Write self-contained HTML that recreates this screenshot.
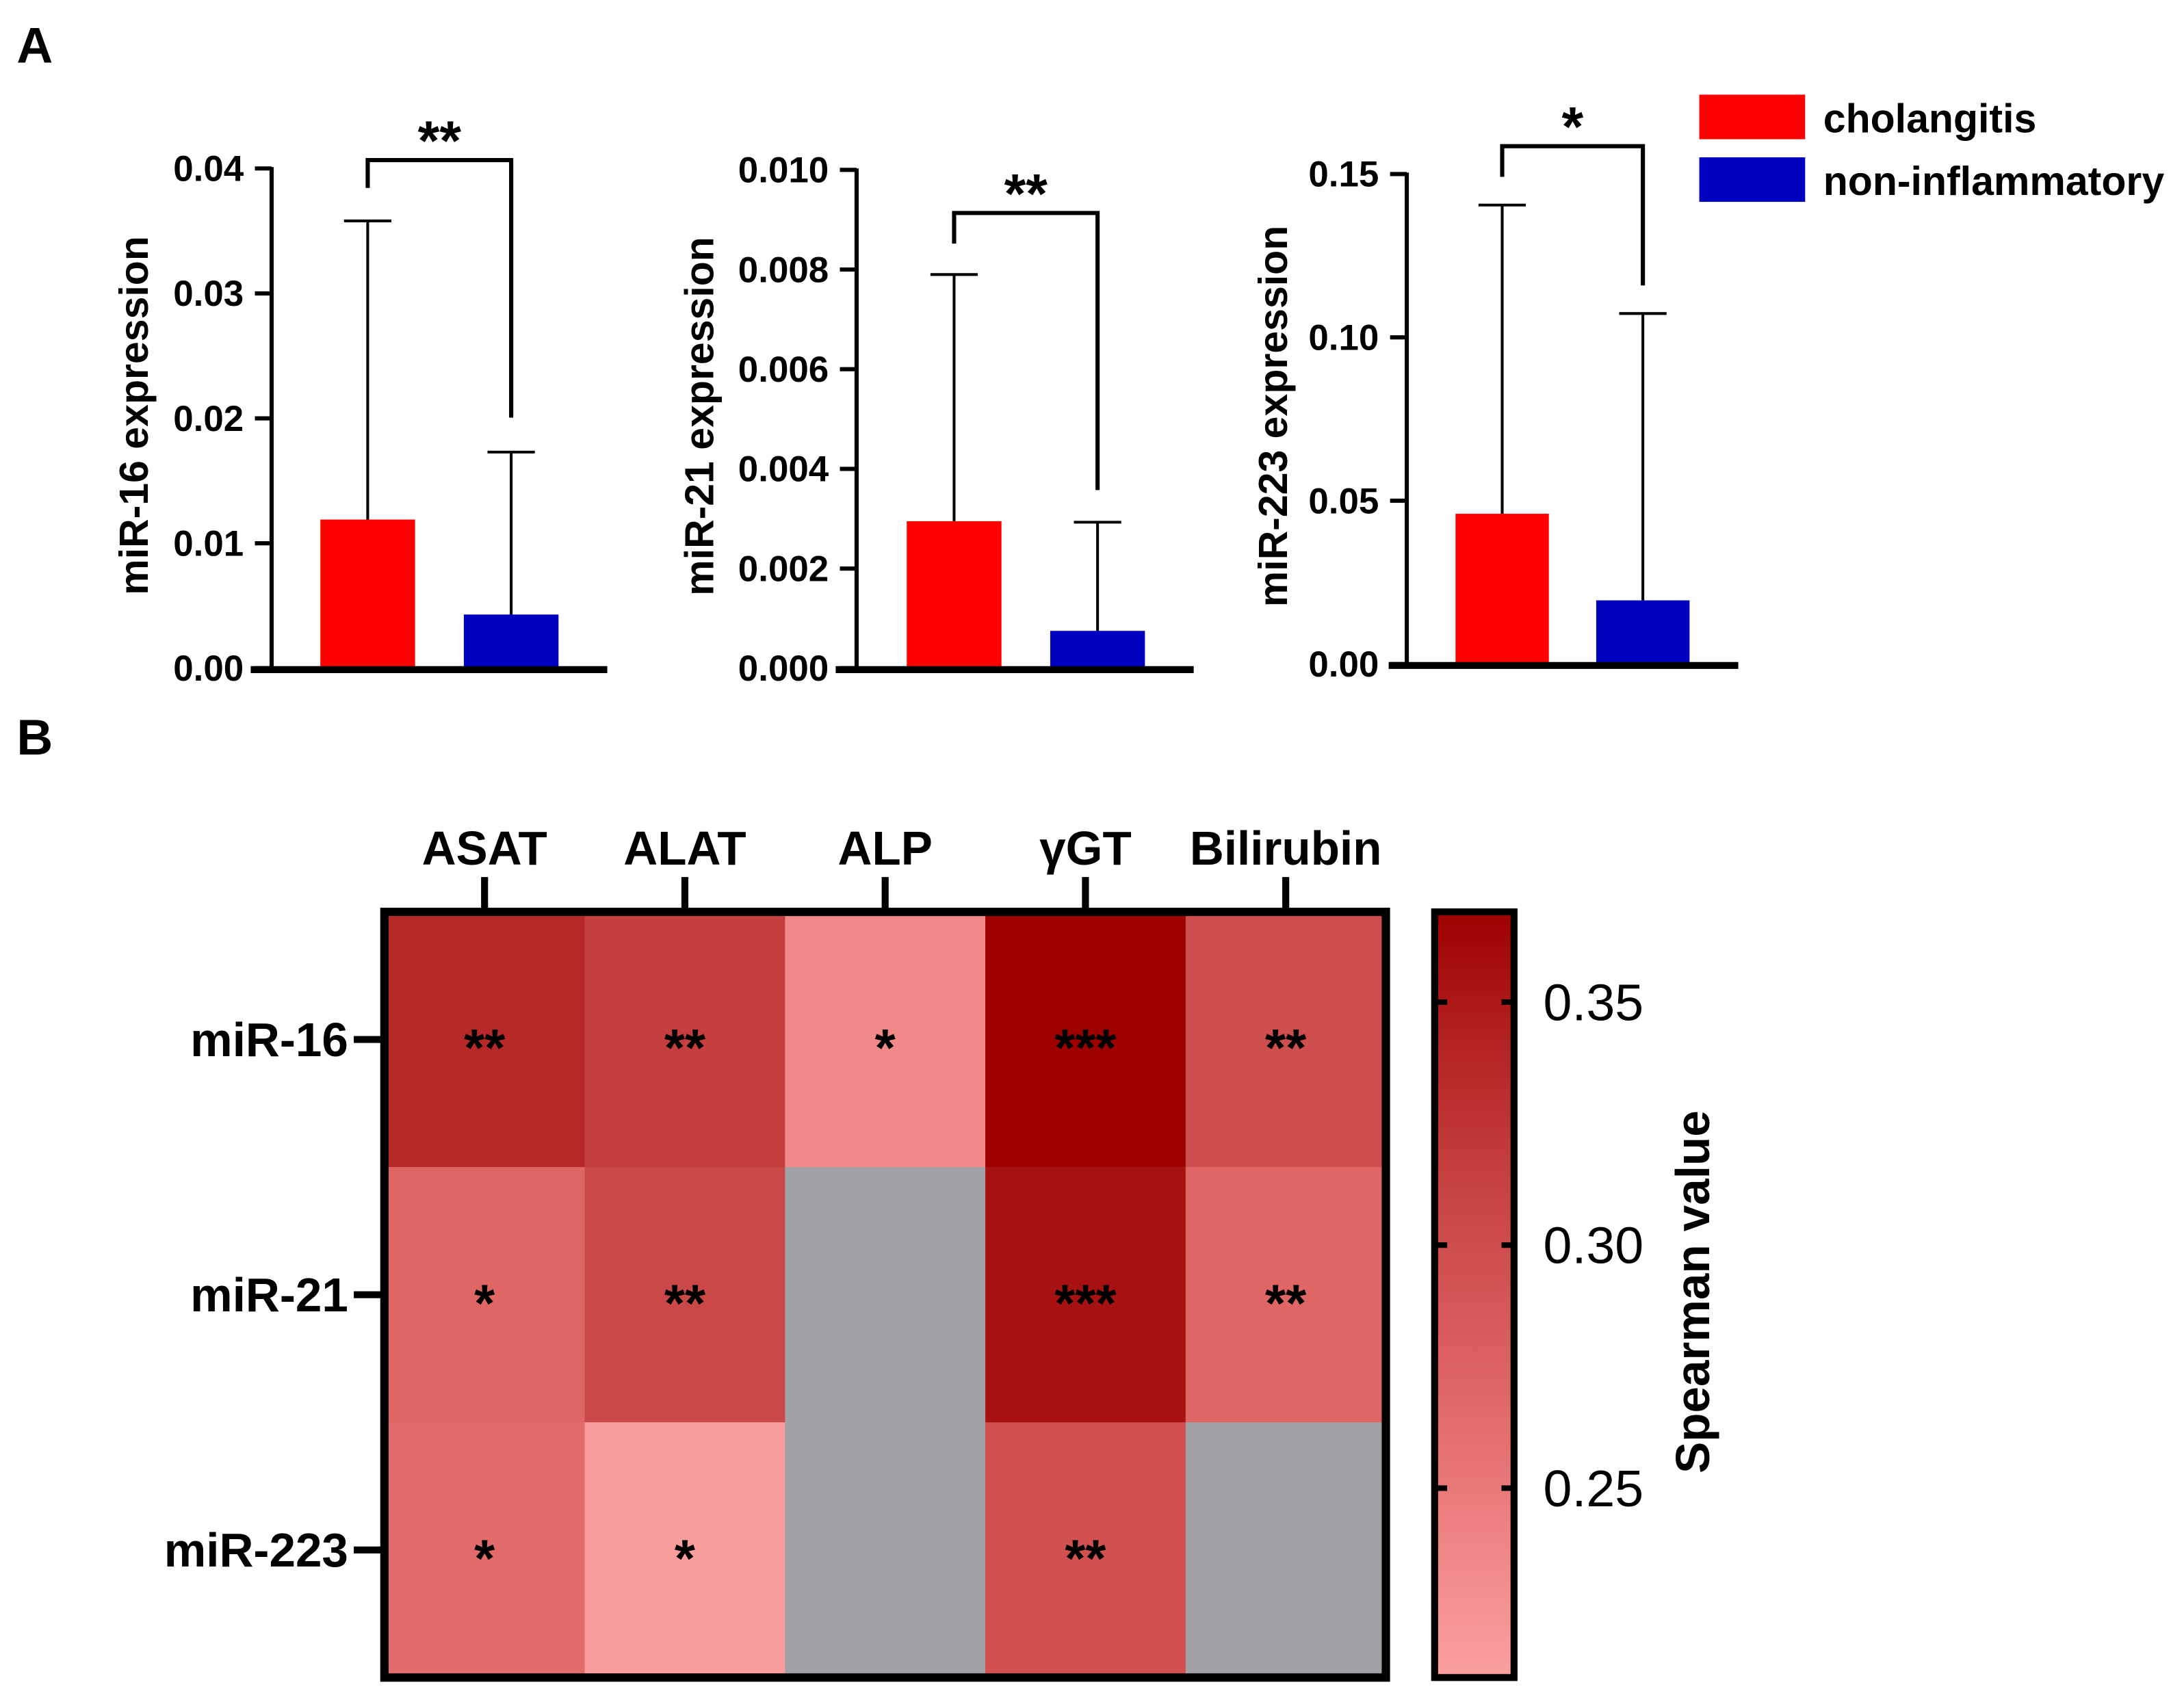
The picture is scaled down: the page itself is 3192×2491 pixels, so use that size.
<!DOCTYPE html>
<html><head><meta charset="utf-8">
<style>
html,body{margin:0;padding:0;background:#fff;}
svg{display:block;font-family:"Liberation Sans",Arial,sans-serif;}
</style></head>
<body>
<svg id="fig" width="3192" height="2491" viewBox="0 0 1568 1224" preserveAspectRatio="none" xmlns="http://www.w3.org/2000/svg">
<rect x="0" y="0" width="1568" height="1224" fill="#fff"/>
<text x="12" y="45" font-size="36" font-weight="bold">A</text>
<text x="12" y="542" font-size="36" font-weight="bold">B</text>
<g id="legend">
  <rect x="1220" y="68" width="76" height="32" fill="#ff0000"/>
  <text x="1309" y="95" font-size="29" font-weight="bold">cholangitis</text>
  <rect x="1220" y="113" width="76" height="32" fill="#0000c0"/>
  <text x="1309" y="140" font-size="29" font-weight="bold">non-inflammatory</text>
</g>
<g id="bars"></g>
<g id="heat"></g>
</svg>
<script>
// ---- Panel A data ----
const groups = ["cholangitis", "non-inflammatory"];
const mir16Means = [0.0119, 0.0043];
const mir16Errors = [0.0358, 0.0173];
const mir21Means = [0.00295, 0.00075];
const mir21Errors = [0.0079, 0.00293];
const mir223Means = [0.046, 0.0195];
const mir223Errors = [0.1405, 0.1073];
const mir16Ticks = ["0.00","0.01","0.02","0.03","0.04"];
const mir21Ticks = ["0.000","0.002","0.004","0.006","0.008","0.010"];
const mir223Ticks = ["0.00","0.05","0.10","0.15"];
const sigLabels = ["**","**","*"];

// ---- Panel B data ----
const heatCols = ["ASAT","ALAT","ALP","γGT","Bilirubin"];
const heatRows = ["miR-16","miR-21","miR-223"];
const row16 = [0.335, 0.315, 0.235, 0.368, 0.300];
const row21 = [0.270, 0.305, null, 0.355, 0.270];
const row223 = [0.265, 0.215, null, 0.295, null];
const row16Stars = ["**","**","*","***","**"];
const row21Stars = ["*","**","","***","**"];
const row223Stars = ["*","*","","**",""];
const cbTicks = ["0.25","0.30","0.35"];

const NS = "http://www.w3.org/2000/svg";
function mk(parent, tag, attrs, text){
  const e = document.createElementNS(NS, tag);
  for (const k in attrs) e.setAttribute(k, attrs[k]);
  if (text !== undefined) e.textContent = text;
  parent.appendChild(e);
  return e;
}

const barsG = document.getElementById('bars');
const charts = [
  {means:mir16Means, errs:mir16Errors, ticks:mir16Ticks, max:0.04, ax:195, y0:480, ytop:121, bx:[230,333], bw:68, xa:[180,436], title:"miR-16 expression", tx:106, br:{y:115, l:135, r:300}, sig:sigLabels[0], name:"mir16"},
  {means:mir21Means, errs:mir21Errors, ticks:mir21Ticks, max:0.010, ax:615, y0:480, ytop:122, bx:[651,754], bw:68, xa:[600,857], title:"miR-21 expression", tx:512, br:{y:153, l:175, r:352}, sig:sigLabels[1], name:"mir21"},
  {means:mir223Means, errs:mir223Errors, ticks:mir223Ticks, max:0.15, ax:1010, y0:477, ytop:125, bx:[1045,1146], bw:67, xa:[997,1248], title:"miR-223 expression", tx:924, br:{y:105, l:127, r:205}, sig:sigLabels[2], name:"mir223"}
];
const colors = ["#ff0000","#0000c0"];
charts.forEach(c => {
  const g = mk(barsG, 'g', {});
  
  
  const ys = v => c.y0 - (v / c.max) * (c.y0 - c.ytop);
  c.means.forEach((m, i) => {
    const x = c.bx[i], cx = x + c.bw/2;
    const top = ys(m), et = ys(c.errs[i]);
    const ln = mk(g, 'line', {x1:cx, x2:cx, y1:top, y2:et, stroke:'#000', 'stroke-width':2});
    
    
    const cap = mk(g, 'line', {x1:cx-17, x2:cx+17, y1:et, y2:et, stroke:'#000', 'stroke-width':2});
    
    
    const r = mk(g, 'rect', {x:x, y:top, width:c.bw, height:c.y0 - top, fill:colors[i]});
    
    
  });
  const ya = mk(g, 'line', {x1:c.ax, x2:c.ax, y1:c.ytop-1, y2:c.y0, stroke:'#000', 'stroke-width':3});
  
  
  const xa = mk(g, 'line', {x1:c.xa[0], x2:c.xa[1], y1:c.y0+1, y2:c.y0+1, stroke:'#000', 'stroke-width':5});
  
  
  c.ticks.forEach(t => {
    const y = ys(parseFloat(t));
    const tk = mk(g, 'line', {x1:c.ax-12, x2:c.ax, y1:y, y2:y, stroke:'#000', 'stroke-width':3});
    
    
    const tl = mk(g, 'text', {x:c.ax-20, y:y+9, 'text-anchor':'end', 'font-size':26, 'font-weight':'bold'}, t);
    
    
  });
  const ty = (c.y0 + c.ytop)/2 - 2;
  const tt = mk(g, 'text', {x:c.tx, y:ty, transform:'rotate(-90 '+c.tx+' '+ty+')', 'text-anchor':'middle', 'font-size':29, 'font-weight':'bold'}, c.title);
  
  
  const lx = c.bx[0] + c.bw/2, rx = c.bx[1] + c.bw/2;
  const br = mk(g, 'polyline', {points:`${lx},${c.br.l} ${lx},${c.br.y} ${rx},${c.br.y} ${rx},${c.br.r}`, fill:'none', stroke:'#000', 'stroke-width':3});
  
  
  const st = mk(g, 'text', {x:(lx+rx)/2, y:c.br.y, 'text-anchor':'middle', 'font-size':40, 'font-weight':'bold'}, c.sig);
  
  
});

// ---- Heatmap ----
const heatG = document.getElementById('heat');
const vmin = 0.2116, vmax = 0.368;
const stops = [[0.2116,[252,160,160]],[0.27,[224,102,102]],[0.31,[200,68,68]],[0.34,[180,36,36]],[0.368,[158,0,0]]];
function colorFor(v){
  if (v <= stops[0][0]) return 'rgb('+stops[0][1]+')';
  for (let i=1;i<stops.length;i++){
    if (v <= stops[i][0]){
      const a = stops[i-1], b = stops[i], t = (v-a[0])/(b[0]-a[0]);
      const c = a[1].map((x,k)=>Math.round(x+(b[1][k]-x)*t));
      return 'rgb('+c.join(',')+')';
    }
  }
  return 'rgb('+stops[stops.length-1][1]+')';
}
const hx0 = 276, hx1 = 995, hy0 = 655, hy1 = 1205;
const cw = (hx1-hx0)/heatCols.length, rh = (hy1-hy0)/heatRows.length;
const rowsData = [row16, row21, row223];
const rowsStars = [row16Stars, row21Stars, row223Stars];
rowsData.forEach((row, r) => {
  row.forEach((v, c) => {
    const cell = mk(heatG, 'rect', {x:hx0+c*cw, y:hy0+r*rh, width:cw+0.5, height:rh+0.5, fill: v===null ? '#a2a1a5' : colorFor(v)});
    
    
    const s = rowsStars[r][c];
    if (s){
      const t = mk(heatG, 'text', {x:hx0+(c+0.5)*cw, y:hy0+(r+0.5)*rh+19, 'text-anchor':'middle', 'font-size':38, 'font-weight':'bold'}, s);
      
      
    }
  });
});
const frame = mk(heatG, 'rect', {x:hx0, y:hy0, width:hx1-hx0, height:hy1-hy0, fill:'none', stroke:'#000', 'stroke-width':6});


heatCols.forEach((name, c) => {
  const x = hx0 + (c+0.5)*cw;
  const tk = mk(heatG, 'line', {x1:x, x2:x, y1:630, y2:hy0, stroke:'#000', 'stroke-width':5});
  
  
  const t = mk(heatG, 'text', {x:x, y:621, 'text-anchor':'middle', 'font-size':34, 'font-weight':'bold'}, name);
  
  
});
heatRows.forEach((name, r) => {
  const y = hy0 + (r+0.5)*rh;
  const tk = mk(heatG, 'line', {x1:254, x2:hx0, y1:y, y2:y, stroke:'#000', 'stroke-width':5});
  
  
  const t = mk(heatG, 'text', {x:250, y:y+12, 'text-anchor':'end', 'font-size':34, 'font-weight':'bold'}, name);
  
  
});
const cbx0 = 1030, cbx1 = 1087, cby0 = 655, cby1 = 1205;
const defs = mk(heatG, 'defs', {});
const lg = mk(defs, 'linearGradient', {id:'cbgrad', x1:0, y1:1, x2:0, y2:0});
stops.forEach(s => {
  mk(lg, 'stop', {offset:((s[0]-vmin)/(vmax-vmin)*100)+'%', 'stop-color':'rgb('+s[1]+')'});
});
const cb = mk(heatG, 'rect', {x:cbx0, y:cby0, width:cbx1-cbx0, height:cby1-cby0, fill:'url(#cbgrad)', stroke:'#000', 'stroke-width':5});


const cbY = v => cby1 - 2 - (v - vmin)/(vmax - vmin) * (cby1 - cby0 - 4);
cbTicks.forEach(t => {
  const y = cbY(parseFloat(t));
  const a = mk(heatG, 'line', {x1:cbx0, x2:cbx0+9, y1:y, y2:y, stroke:'#000', 'stroke-width':4});
  
  
  const b = mk(heatG, 'line', {x1:cbx1-9, x2:cbx1, y1:y, y2:y, stroke:'#000', 'stroke-width':4});
  
  
  const l = mk(heatG, 'text', {x:1108, y:y+13, 'font-size':37}, t);
  
  
});
const cbt = mk(heatG, 'text', {x:1227, y:928, transform:'rotate(-90 1227 928)', 'text-anchor':'middle', 'font-size':34, 'font-weight':'bold'}, 'Spearman value');


</script>
</body></html>
